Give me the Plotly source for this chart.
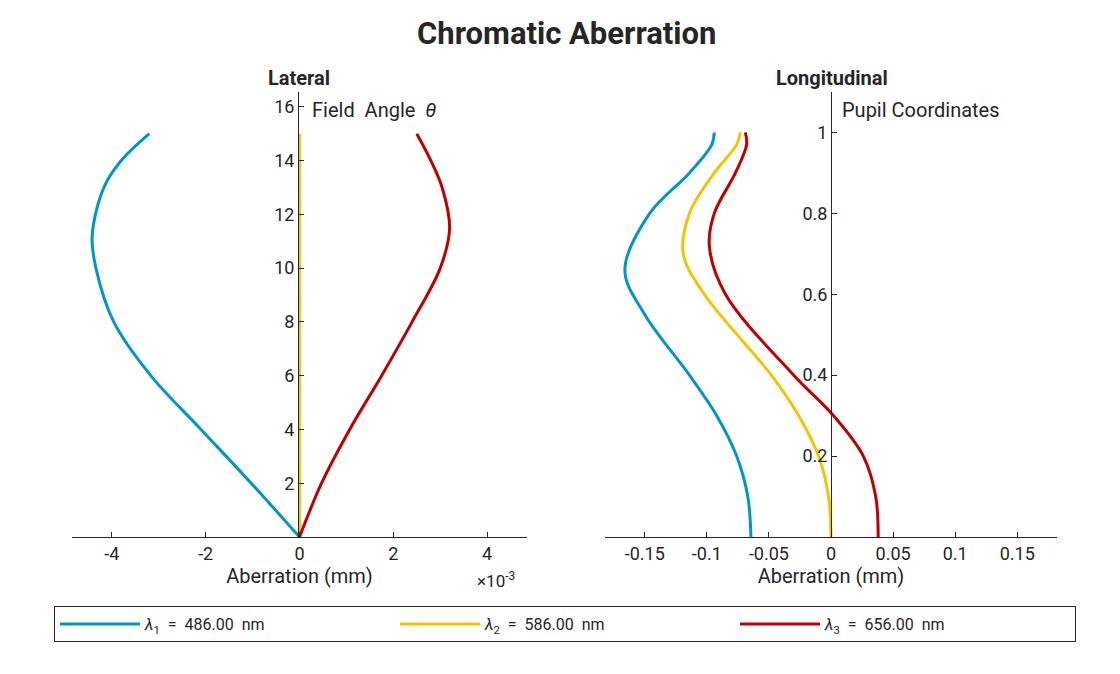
import plotly.graph_objects as go

lat_y = [0, 2, 4, 6, 8, 10, 11.2, 13, 14, 15]
lat_blue = [0, -1.03e-3, -2.1e-3, -3.17e-3, -3.96e-3, -4.34e-3, -4.42e-3, -4.17e-3, -3.8e-3, -3.2e-3]
lat_red_y = [0, 2, 4, 6, 8, 10, 11.5, 13, 14, 15]
lat_red = [0, 0.47e-3, 1.07e-3, 1.75e-3, 2.4e-3, 3.0e-3, 3.2e-3, 3.04e-3, 2.8e-3, 2.5e-3]
lat_yel_y = [0, 15]
lat_yel = [0, 0]

lon_y_b = [0, 0.1, 0.2, 0.3, 0.4, 0.55, 0.66, 0.8, 0.9, 0.97, 1.0]
lon_blue = [-0.0645, -0.067, -0.076, -0.092, -0.114, -0.150, -0.166, -0.146, -0.114, -0.096, -0.094]
lon_y_y = [0, 0.1, 0.2, 0.3, 0.4, 0.6, 0.7, 0.8, 0.9, 0.97, 1.0]
lon_yel = [0, -0.002, -0.010, -0.026, -0.048, -0.102, -0.119, -0.114, -0.094, -0.076, -0.073]
lon_y_r = [0, 0.1, 0.2, 0.3, 0.4, 0.6, 0.72, 0.8, 0.9, 0.97, 1.0]
lon_red = [0.038, 0.036, 0.026, 0.002, -0.030, -0.085, -0.098, -0.094, -0.077, -0.068, -0.069]

blue, yel, red = "#0096c8", "#f5c400", "#c00000"
names = ["<i>λ</i><sub>1</sub>  =  486.00  nm", "<i>λ</i><sub>2</sub>  =  586.00  nm", "<i>λ</i><sub>3</sub>  =  656.00  nm"]

def px(x):
    return (x - 8) / 1120

def py(y):
    return 1 - (y - 8) / 674

fig = go.Figure()
ln = dict(width=3, shape="spline")
fig.add_trace(go.Scatter(x=lat_blue, y=lat_y, mode="lines", line=dict(color=blue, **ln), name=names[0], xaxis="x", yaxis="y"))
fig.add_trace(go.Scatter(x=lat_yel, y=lat_yel_y, mode="lines", line=dict(color=yel, **ln), name=names[1], xaxis="x", yaxis="y"))
fig.add_trace(go.Scatter(x=lat_red, y=lat_red_y, mode="lines", line=dict(color=red, **ln), name=names[2], xaxis="x", yaxis="y"))
fig.add_trace(go.Scatter(x=lon_blue, y=lon_y_b, mode="lines", line=dict(color=blue, **ln), showlegend=False, xaxis="x2", yaxis="y2"))
fig.add_trace(go.Scatter(x=lon_yel, y=lon_y_y, mode="lines", line=dict(color=yel, **ln), showlegend=False, xaxis="x2", yaxis="y2"))
fig.add_trace(go.Scatter(x=lon_red, y=lon_y_r, mode="lines", line=dict(color=red, **ln), showlegend=False, xaxis="x2", yaxis="y2"))

yd = [py(537), py(92)]
ax = dict(showgrid=False, zeroline=False, showline=True, linecolor="#262626", linewidth=1,
          ticks="inside", ticklen=5, tickcolor="#262626", tickfont=dict(size=18, color="#262626"))
fig.update_layout(
    width=1120, height=674, margin=dict(l=0, r=0, t=0, b=0),
    plot_bgcolor="white", paper_bgcolor="white",
    font=dict(family="Roboto", color="#262626"),
    xaxis=dict(domain=[px(72), px(527)], range=[-4.85e-3, 4.85e-3], anchor="y",
               tickvals=[-4e-3, -2e-3, 0, 2e-3, 4e-3], ticktext=["-4", "-2", "0", "2", "4"],
               title=dict(text="Aberration (mm)", font=dict(size=20), standoff=4), **ax),
    yaxis=dict(domain=yd, range=[0, 16.55], anchor="free", position=px(298),
               tickvals=[2, 4, 6, 8, 10, 12, 14, 16], **ax),
    xaxis2=dict(domain=[px(605), px(1057)], range=[-0.182, 0.182], anchor="y2",
                tickvals=[-0.15, -0.1, -0.05, 0, 0.05, 0.1, 0.15],
                ticktext=["-0.15", "-0.1", "-0.05", "0", "0.05", "0.1", "0.15"],
                title=dict(text="Aberration (mm)", font=dict(size=20), standoff=4), **ax),
    yaxis2=dict(domain=yd, range=[0, 1.1], anchor="free", position=px(831),
                tickvals=[0.2, 0.4, 0.6, 0.8, 1], ticktext=["0.2", "0.4", "0.6", "0.8", "1"], **ax),
    legend=dict(orientation="h", x=px(565), xanchor="center", y=py(624), yanchor="middle",
                bordercolor="#262626", borderwidth=1, font=dict(size=16), itemwidth=80,
                entrywidth=245),
    showlegend=True,
)
ann = [
    dict(text="<b>Chromatic Aberration</b>", x=px(566), y=py(33), size=31),
    dict(text="<b>Lateral</b>", x=px(299), y=py(78), size=20),
    dict(text="<b>Longitudinal</b>", x=px(832), y=py(78), size=20),
]
for a in ann:
    fig.add_annotation(text=a["text"], x=a["x"], y=a["y"], xref="paper", yref="paper",
                       showarrow=False, font=dict(size=a["size"], color="#262626"), xanchor="center", yanchor="middle")
fig.add_annotation(text="Field  Angle  <i>θ</i>", x=px(310), y=py(110), xref="paper", yref="paper",
                   showarrow=False, xanchor="left", yanchor="middle", font=dict(size=20))
fig.add_annotation(text="Pupil Coordinates", x=px(840), y=py(110), xref="paper", yref="paper",
                   showarrow=False, xanchor="left", yanchor="middle", font=dict(size=20))
fig.add_annotation(text="×10<sup>-3</sup>", x=px(475), y=py(580), xref="paper", yref="paper",
                   showarrow=False, xanchor="left", yanchor="middle", font=dict(size=17))
fig.write_html("out.html")
